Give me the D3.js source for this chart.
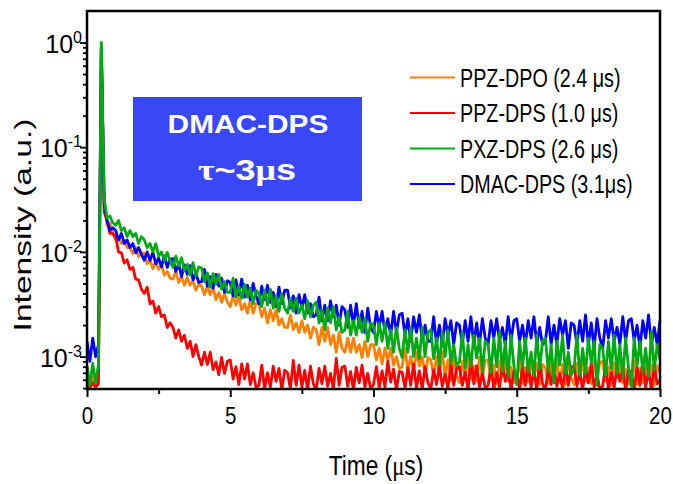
<!doctype html>
<html>
<head>
<meta charset="utf-8">
<script src="https://cdn.jsdelivr.net/npm/d3@7"></script>
<style>
  body { margin: 0; background: #fff; }
  text { font-family: "Liberation Sans", Arial, sans-serif; }
</style>
</head>
<body>
<svg width="673" height="484"></svg>
<script>
// sampling times (us), 0.1 us grid
const time = [
  0.0,0.1,0.2,0.3,0.4,0.5,0.6,0.7,0.8,0.9,
  1.0,1.1,1.2,1.3,1.4,1.5,1.6,1.7,1.8,1.9,
  2.0,2.1,2.2,2.3,2.4,2.5,2.6,2.7,2.8,2.9,
  3.0,3.1,3.2,3.3,3.4,3.5,3.6,3.7,3.8,3.9,
  4.0,4.1,4.2,4.3,4.4,4.5,4.6,4.7,4.8,4.9,
  5.0,5.1,5.2,5.3,5.4,5.5,5.6,5.7,5.8,5.9,
  6.0,6.1,6.2,6.3,6.4,6.5,6.6,6.7,6.8,6.9,
  7.0,7.1,7.2,7.3,7.4,7.5,7.6,7.7,7.8,7.9,
  8.0,8.1,8.2,8.3,8.4,8.5,8.6,8.7,8.8,8.9,
  9.0,9.1,9.2,9.3,9.4,9.5,9.6,9.7,9.8,9.9,
  10.0,10.1,10.2,10.3,10.4,10.5,10.6,10.7,10.8,10.9,
  11.0,11.1,11.2,11.3,11.4,11.5,11.6,11.7,11.8,11.9,
  12.0,12.1,12.2,12.3,12.4,12.5,12.6,12.7,12.8,12.9,
  13.0,13.1,13.2,13.3,13.4,13.5,13.6,13.7,13.8,13.9,
  14.0,14.1,14.2,14.3,14.4,14.5,14.6,14.7,14.8,14.9,
  15.0,15.1,15.2,15.3,15.4,15.5,15.6,15.7,15.8,15.9,
  16.0,16.1,16.2,16.3,16.4,16.5,16.6,16.7,16.8,16.9,
  17.0,17.1,17.2,17.3,17.4,17.5,17.6,17.7,17.8,17.9,
  18.0,18.1,18.2,18.3,18.4,18.5,18.6,18.7,18.8,18.9,
  19.0,19.1,19.2,19.3,19.4,19.5,19.6,19.7,19.8,19.9,
  20.0
];

// PPZ-DPO
const ppzDpo = [
  6.0e-4,5.2e-4,6.4e-4,5.5e-4,6.2e-4,0.95,3.0e-2,1.8e-2,1.9e-2,1.5e-2,
  1.3e-2,1.4e-2,1.2e-2,1.3e-2,1.1e-2,1.1e-2,9.6e-3,1.1e-2,9.0e-3,9.8e-3,
  9.7e-3,7.7e-3,8.4e-3,6.9e-3,8.1e-3,6.8e-3,7.6e-3,6.0e-3,6.5e-3,5.6e-3,
  5.5e-3,6.5e-3,5.1e-3,5.8e-3,4.8e-3,5.7e-3,4.8e-3,5.3e-3,4.3e-3,4.9e-3,
  4.7e-3,3.9e-3,4.7e-3,3.9e-3,4.6e-3,3.5e-3,4.1e-3,3.3e-3,4.0e-3,3.3e-3,
  3.0e-3,3.8e-3,3.1e-3,3.7e-3,2.8e-3,3.2e-3,2.6e-3,3.5e-3,2.6e-3,3.2e-3,
  3.2e-3,2.4e-3,2.9e-3,2.1e-3,2.8e-3,2.2e-3,2.8e-3,2.0e-3,2.3e-3,1.9e-3,
  1.9e-3,2.5e-3,1.8e-3,2.1e-3,1.7e-3,2.2e-3,1.7e-3,2.0e-3,1.5e-3,1.9e-3,
  1.8e-3,1.3e-3,1.9e-3,1.4e-3,1.9e-3,1.3e-3,1.6e-3,1.1e-3,1.7e-3,1.2e-3,
  1.1e-3,1.5e-3,1.1e-3,1.5e-3,1.1e-3,1.3e-3,9.8e-4,1.4e-3,1.0e-3,1.3e-3,
  1.3e-3,9.3e-4,1.2e-3,8.5e-4,1.2e-3,9.2e-4,1.2e-3,8.3e-4,1.0e-3,7.7e-4,
  8.0e-4,1.2e-3,7.3e-4,1.0e-3,7.3e-4,1.1e-3,8.1e-4,1.0e-3,6.6e-4,9.8e-4,
  9.3e-4,6.4e-4,1.0e-3,6.9e-4,1.1e-3,6.4e-4,9.3e-4,5.9e-4,9.9e-4,6.7e-4,
  5.6e-4,9.0e-4,6.5e-4,9.5e-4,6.1e-4,8.1e-4,5.8e-4,9.8e-4,6.3e-4,9.2e-4,
  9.3e-4,6.0e-4,8.3e-4,5.5e-4,9.0e-4,6.5e-4,9.5e-4,5.8e-4,7.9e-4,5.6e-4,
  6.0e-4,9.3e-4,5.5e-4,7.9e-4,5.7e-4,9.1e-4,6.5e-4,8.6e-4,5.4e-4,8.4e-4,
  7.9e-4,5.5e-4,8.8e-4,6.0e-4,9.3e-4,5.7e-4,8.4e-4,5.4e-4,9.1e-4,6.2e-4,
  5.4e-4,8.6e-4,6.2e-4,9.1e-4,5.8e-4,7.8e-4,5.5e-4,9.3e-4,6.0e-4,8.8e-4,
  9.0e-4,5.8e-4,8.0e-4,5.3e-4,8.7e-4,6.3e-4,9.2e-4,5.6e-4,7.6e-4,5.4e-4,
  6.0e-4,9.1e-4,5.4e-4,7.7e-4,5.6e-4,8.9e-4,6.4e-4,8.4e-4,5.3e-4,8.2e-4,
  7.0e-4
];

// PPZ-DPS
const ppzDps = [
  5.4e-4,5.0e-4,5.6e-4,5.1e-4,5.5e-4,0.9,2.4e-2,2.0e-2,1.5e-2,1.5e-2,
  1.4e-2,1.0e-2,9.8e-3,7.8e-3,8.4e-3,6.8e-3,7.1e-3,5.5e-3,5.4e-3,4.4e-3,
  4.0e-3,4.6e-3,3.2e-3,3.4e-3,2.6e-3,3.0e-3,2.4e-3,2.5e-3,1.9e-3,2.1e-3,
  1.9e-3,1.5e-3,1.8e-3,1.4e-3,1.6e-3,1.2e-3,1.4e-3,1.0e-3,1.3e-3,1.0e-3,
  8.3e-4,1.1e-3,8.4e-4,1.1e-3,7.5e-4,8.9e-4,6.7e-4,9.8e-4,6.9e-4,9.0e-4,
  9.3e-4,6.1e-4,8.0e-4,5.4e-4,8.5e-4,6.1e-4,8.5e-4,5.4e-4,7.0e-4,5.1e-4,
  5.3e-4,8.3e-4,4.9e-4,7.0e-4,5.1e-4,8.1e-4,5.8e-4,7.7e-4,4.8e-4,7.4e-4,
  7.0e-4,4.9e-4,9.2e-4,5.3e-4,8.3e-4,5.1e-4,7.4e-4,4.8e-4,8.1e-4,5.5e-4,
  4.8e-4,7.7e-4,5.5e-4,8.1e-4,5.2e-4,6.9e-4,4.9e-4,9.6e-4,5.3e-4,7.9e-4,
  8.1e-4,5.2e-4,7.2e-4,4.8e-4,7.9e-4,5.6e-4,8.3e-4,5.1e-4,6.9e-4,4.9e-4,
  5.4e-4,8.0e-4,5.0e-4,7.3e-4,5.1e-4,9.0e-4,5.7e-4,7.6e-4,4.8e-4,7.2e-4,
  7.1e-4,5.0e-4,7.8e-4,5.3e-4,8.5e-4,5.0e-4,7.3e-4,4.9e-4,8.0e-4,5.6e-4,
  4.9e-4,7.5e-4,5.4e-4,8.2e-4,5.2e-4,6.8e-4,4.9e-4,8.4e-4,5.3e-4,7.7e-4,
  8.0e-4,5.3e-4,7.1e-4,4.8e-4,9.4e-4,5.5e-4,8.2e-4,5.1e-4,7.0e-4,5.0e-4,
  5.3e-4,8.1e-4,4.9e-4,7.0e-4,5.1e-4,8.3e-4,5.8e-4,7.5e-4,4.8e-4,7.3e-4,
  6.9e-4,4.9e-4,7.9e-4,5.3e-4,8.4e-4,5.1e-4,7.4e-4,4.8e-4,8.8e-4,5.5e-4,
  4.8e-4,7.7e-4,5.4e-4,8.0e-4,5.2e-4,6.9e-4,4.9e-4,8.3e-4,5.3e-4,7.8e-4,
  8.2e-4,5.2e-4,7.2e-4,4.8e-4,7.8e-4,5.6e-4,8.6e-4,5.1e-4,6.8e-4,4.9e-4,
  5.2e-4,8.3e-4,4.9e-4,7.1e-4,5.1e-4,8.0e-4,5.8e-4,7.6e-4,4.8e-4,7.4e-4,
  7.0e-4,4.9e-4,7.9e-4,5.3e-4,9.1e-4,5.1e-4,7.4e-4,4.8e-4,8.1e-4,5.5e-4,
  6.0e-4
];

// PXZ-DPS
const pxzDps = [
  8.2e-4,5.3e-4,8.6e-4,5.6e-4,8.4e-4,1.0,3.2e-2,2.1e-2,2.2e-2,1.9e-2,
  1.8e-2,2.0e-2,1.6e-2,1.7e-2,1.4e-2,1.6e-2,1.4e-2,1.5e-2,1.2e-2,1.4e-2,
  1.3e-2,1.1e-2,1.2e-2,1.0e-2,1.2e-2,9.1e-3,1.0e-2,8.3e-3,9.9e-3,8.2e-3,
  7.1e-3,9.1e-3,7.3e-3,8.8e-3,6.6e-3,7.6e-3,6.0e-3,7.9e-3,5.9e-3,7.2e-3,
  7.0e-3,5.2e-3,6.3e-3,4.6e-3,6.2e-3,4.9e-3,6.1e-3,4.4e-3,5.2e-3,4.1e-3,
  4.1e-3,5.6e-3,3.7e-3,4.7e-3,3.6e-3,4.9e-3,3.7e-3,4.5e-3,3.2e-3,4.3e-3,
  4.0e-3,3.0e-3,4.3e-3,3.1e-3,4.4e-3,2.9e-3,3.8e-3,2.7e-3,4.0e-3,2.9e-3,
  2.6e-3,3.6e-3,2.7e-3,3.6e-3,2.6e-3,3.1e-3,2.3e-3,3.4e-3,2.4e-3,3.1e-3,
  3.3e-3,2.1e-3,2.8e-3,1.8e-3,2.9e-3,2.1e-3,3.0e-3,1.8e-3,2.4e-3,1.7e-3,
  1.8e-3,2.7e-3,1.6e-3,2.2e-3,1.6e-3,2.4e-3,1.7e-3,2.3e-3,1.4e-3,2.1e-3,
  2.0e-3,1.3e-3,2.1e-3,1.4e-3,2.1e-3,1.2e-3,1.8e-3,1.1e-3,1.9e-3,1.2e-3,
  9.8e-4,1.8e-3,1.1e-3,1.9e-3,1.0e-3,1.5e-3,9.5e-4,1.9e-3,1.0e-3,1.7e-3,
  1.8e-3,9.5e-4,1.5e-3,8.3e-4,1.7e-3,1.0e-3,1.8e-3,8.6e-4,1.3e-3,8.2e-4,
  8.9e-4,1.7e-3,7.8e-4,1.3e-3,8.0e-4,1.6e-3,9.7e-4,1.5e-3,7.2e-4,1.4e-3,
  1.3e-3,7.0e-4,1.5e-3,8.0e-4,1.7e-3,7.2e-4,1.4e-3,6.5e-4,1.6e-3,8.2e-4,
  5.4e-4,1.4e-3,7.9e-4,1.5e-3,7.2e-4,1.1e-3,6.6e-4,1.6e-3,7.6e-4,1.4e-3,
  1.5e-3,7.2e-4,1.3e-3,5.6e-4,1.4e-3,8.3e-4,1.6e-3,6.9e-4,1.1e-3,6.6e-4,
  7.6e-4,1.6e-3,6.6e-4,1.2e-3,6.9e-4,1.5e-3,8.7e-4,1.4e-3,5.3e-4,1.3e-3,
  1.2e-3,6.6e-4,1.4e-3,7.6e-4,1.6e-3,6.9e-4,1.3e-3,6.3e-4,1.5e-3,7.9e-4,
  5.2e-4,1.5e-3,8.1e-4,1.4e-3,7.0e-4,1.2e-3,6.4e-4,1.7e-3,7.4e-4,1.3e-3,
  9.5e-4
];

// DMAC-DPS
const dmacDps = [
  1.4e-3,9.0e-4,1.5e-3,1.0e-3,1.3e-3,0.9,2.8e-2,2.0e-2,1.6e-2,1.7e-2,
  1.6e-2,1.3e-2,1.5e-2,1.2e-2,1.3e-2,1.1e-2,1.2e-2,9.8e-3,1.1e-2,9.5e-3,
  8.3e-3,1.0e-2,8.3e-3,9.9e-3,7.7e-3,8.7e-3,7.2e-3,9.1e-3,7.1e-3,8.5e-3,
  8.6e-3,6.5e-3,7.7e-3,5.8e-3,7.5e-3,6.1e-3,7.4e-3,5.4e-3,6.3e-3,5.1e-3,
  5.2e-3,6.8e-3,4.7e-3,5.8e-3,4.5e-3,6.1e-3,4.7e-3,5.6e-3,4.1e-3,5.3e-3,
  5.1e-3,3.8e-3,5.4e-3,3.9e-3,5.5e-3,3.7e-3,4.8e-3,3.5e-3,5.0e-3,3.8e-3,
  3.2e-3,4.7e-3,3.5e-3,4.8e-3,3.3e-3,4.1e-3,3.0e-3,4.6e-3,3.2e-3,4.3e-3,
  4.3e-3,2.9e-3,3.8e-3,2.6e-3,3.9e-3,2.9e-3,3.9e-3,2.6e-3,3.2e-3,2.4e-3,
  2.5e-3,3.7e-3,2.2e-3,3.1e-3,2.2e-3,3.4e-3,2.4e-3,3.1e-3,2.0e-3,3.0e-3,
  2.8e-3,1.9e-3,3.1e-3,2.0e-3,3.2e-3,1.9e-3,2.7e-3,1.7e-3,2.9e-3,1.9e-3,
  1.7e-3,2.7e-3,1.9e-3,2.7e-3,1.7e-3,2.3e-3,1.6e-3,2.7e-3,1.7e-3,2.5e-3,
  2.6e-3,1.6e-3,2.3e-3,1.4e-3,2.4e-3,1.7e-3,2.5e-3,1.4e-3,2.0e-3,1.4e-3,
  1.4e-3,2.4e-3,1.3e-3,2.0e-3,1.3e-3,2.3e-3,1.6e-3,2.2e-3,1.3e-3,2.1e-3,
  2.0e-3,1.3e-3,2.2e-3,1.4e-3,2.4e-3,1.3e-3,2.1e-3,1.3e-3,2.3e-3,1.5e-3,
  1.3e-3,2.2e-3,1.5e-3,2.3e-3,1.4e-3,1.9e-3,1.3e-3,2.4e-3,1.4e-3,2.2e-3,
  2.3e-3,1.4e-3,2.0e-3,1.3e-3,2.2e-3,1.5e-3,2.4e-3,1.3e-3,1.9e-3,1.3e-3,
  1.4e-3,2.4e-3,1.3e-3,2.0e-3,1.3e-3,2.3e-3,1.6e-3,2.2e-3,1.2e-3,2.1e-3,
  2.0e-3,1.3e-3,2.2e-3,1.4e-3,2.5e-3,1.3e-3,2.1e-3,1.2e-3,2.3e-3,1.5e-3,
  1.2e-3,2.2e-3,1.5e-3,2.3e-3,1.4e-3,1.9e-3,1.3e-3,2.4e-3,1.4e-3,2.2e-3,
  2.3e-3,1.4e-3,2.0e-3,1.2e-3,2.2e-3,1.5e-3,2.5e-3,1.3e-3,1.9e-3,1.3e-3,
  2.2e-3
];

const seriesNames = ["PPZ-DPO (2.4 μs)", "PPZ-DPS (1.0 μs)", "PXZ-DPS (2.6 μs)", "DMAC-DPS (3.1μs)"];
const seriesValues = [ppzDpo, ppzDps, pxzDps, dmacDps];
const colors = ["#ff8000", "#ff0000", "#00aa14", "#0000ff"];
const drawOrder = [0, 1, 3, 2];

const xMajor = [0, 5, 10, 15, 20];
const xMinor = [2.5, 7.5, 12.5, 17.5];
const yMajor = [1e-3, 1e-2, 1e-1, 1];
const yMinor = [5e-4, 6e-4, 7e-4, 8e-4, 9e-4,
  2e-3, 3e-3, 4e-3, 5e-3, 6e-3, 7e-3, 8e-3, 9e-3,
  2e-2, 3e-2, 4e-2, 5e-2, 6e-2, 7e-2, 8e-2, 9e-2,
  2e-1, 3e-1, 4e-1, 5e-1, 6e-1, 7e-1, 8e-1, 9e-1];

var svg = d3.select("svg"),
    margin = {top: 11, right: 13, bottom: 95, left: 87},
    width = 673 - margin.left - margin.right,
    height = 484 - margin.top - margin.bottom,
    g = svg.append("g").attr("transform", "translate(" + margin.left + "," + margin.top + ")");

const x = d3.scaleLinear().domain([0, 20]).range([0, width]);
const y = d3.scaleLog().domain([4.9e-4, 2]).range([height, 0]);

g.append("clipPath").attr("id", "plot")
  .append("rect").attr("width", width).attr("height", height);

const line = d3.line()
  .x((d, i) => x(time[i]))
  .y(d => y(d));

drawOrder.forEach(k => {
  g.append("path")
    .attr("clip-path", "url(#plot)")
    .attr("d", line(seriesValues[k]))
    .attr("fill", "none")
    .attr("stroke", colors[k])
    .attr("stroke-width", 2.8)
    .attr("stroke-linejoin", "round");
});

// x axis
const xAxis = g.append("g").attr("transform", "translate(0," + height + ")");
xAxis.call(d3.axisBottom(x).tickValues(xMajor).tickSize(8).tickFormat(d3.format("d")));
xAxis.append("g").call(d3.axisBottom(x).tickValues(xMinor).tickSize(5).tickFormat(""));
xAxis.selectAll(".domain").remove();
xAxis.selectAll(".tick line").attr("stroke", "#000").attr("stroke-width", 2);
xAxis.selectAll(".tick text")
  .attr("y", null).attr("dy", null)
  .attr("transform", "translate(0,35) scale(0.84,1)")
  .attr("font-size", 24.5).attr("fill", "#000")
  .attr("font-family", "Liberation Sans, Arial, sans-serif");

// y axis
const yAxis = g.append("g");
yAxis.call(d3.axisLeft(y).tickValues(yMajor).tickSize(7).tickFormat(""));
yAxis.append("g").call(d3.axisLeft(y).tickValues(yMinor).tickSize(4).tickFormat(""));
yAxis.selectAll(".domain").remove();
yAxis.selectAll(".tick line").attr("stroke", "#000").attr("stroke-width", 1.8);

yMajor.forEach(v => {
  const t = g.append("text")
    .attr("text-anchor", "end")
    .attr("transform", "translate(-5," + (y(v) + 10) + ")")
    .attr("font-size", 25).attr("fill", "#000");
  t.append("tspan").text("10");
  t.append("tspan").attr("font-size", 16).attr("dy", -10).text(String(Math.round(Math.log10(v))));
});

// frame
g.append("rect")
  .attr("width", width).attr("height", height)
  .attr("fill", "none").attr("stroke", "#000").attr("stroke-width", 2.5);

// axis titles
const xt = svg.append("text")
  .attr("text-anchor", "middle")
  .attr("transform", "translate(376,475) scale(0.81,1)")
  .attr("font-size", 28).attr("fill", "#000");
xt.append("tspan").text("Time (");
xt.append("tspan").attr("font-family", "Liberation Serif, serif").text("μ");
xt.append("tspan").text("s)");

svg.append("text")
  .attr("text-anchor", "middle")
  .attr("transform", "translate(31,225) rotate(-90) scale(1.4,1)")
  .attr("font-size", 24).attr("fill", "#000")
  .text("Intensity (a.u.)");

// legend
const legend = svg.append("g");
seriesNames.forEach((name, i) => {
  const ly = 77.5 + i * 35.5;
  legend.append("line")
    .attr("x1", 410).attr("x2", 455).attr("y1", ly).attr("y2", ly)
    .attr("stroke", colors[i]).attr("stroke-width", 2);
  legend.append("text")
    .attr("transform", "translate(460," + (ly + 9) + ") scale(0.79,1)")
    .attr("font-size", 25).attr("fill", "#000")
    .text(name);
});

// label box
svg.append("rect")
  .attr("x", 133).attr("y", 97).attr("width", 229).attr("height", 104)
  .attr("fill", "#3a47f7");
svg.append("text")
  .attr("text-anchor", "middle")
  .attr("transform", "translate(248,133) scale(1.17,1)")
  .attr("font-size", 25.5).attr("font-weight", "bold").attr("fill", "#fff")
  .text("DMAC-DPS");
const tau = svg.append("text")
  .attr("text-anchor", "middle")
  .attr("transform", "translate(247,180) scale(1.2,1)")
  .attr("font-size", 30).attr("font-weight", "bold").attr("fill", "#fff");
tau.append("tspan").attr("font-family", "Liberation Serif, serif").text("τ");
tau.append("tspan").text("~3");
tau.append("tspan").attr("font-family", "Liberation Serif, serif").text("μ");
tau.append("tspan").text("s");
</script>
</body>
</html>
